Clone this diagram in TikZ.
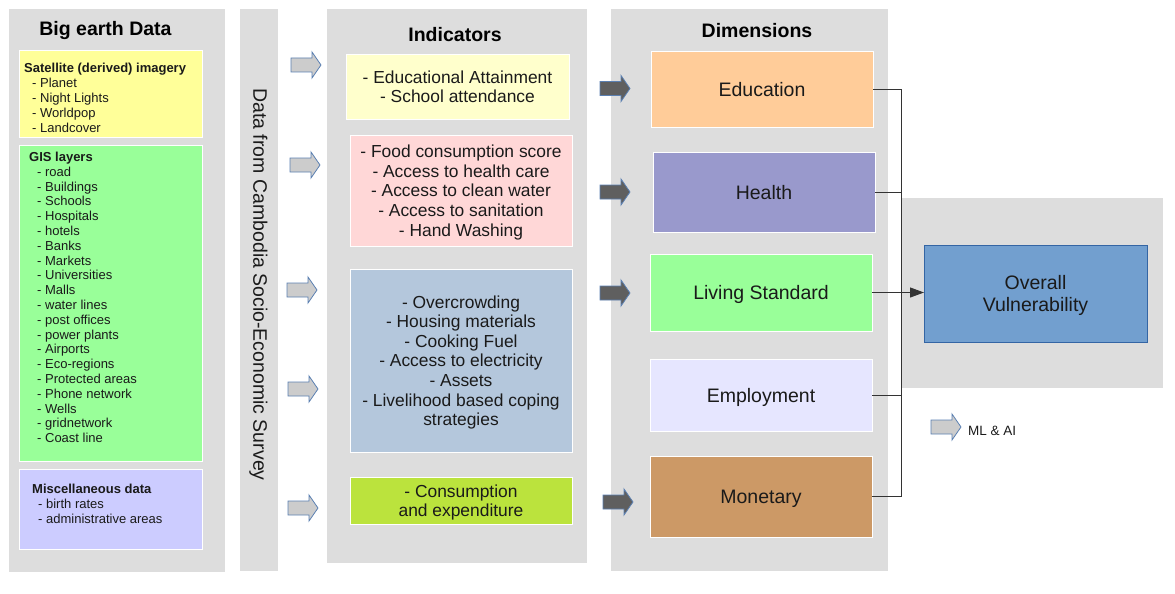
\documentclass[tikz,border=0pt]{standalone}
\usepackage{fontspec}
\setmainfont{Liberation Sans}
\usetikzlibrary{arrows.meta}
\definecolor{panelgray}{HTML}{DDDDDD}
\definecolor{satyellow}{HTML}{FFFF99}
\definecolor{gisgreen}{HTML}{99FF99}
\definecolor{miscblue}{HTML}{CCCCFF}
\definecolor{indyellow}{HTML}{FFFFCC}
\definecolor{indpink}{HTML}{FFD7D7}
\definecolor{indblue}{HTML}{B4C7DC}
\definecolor{indgreen}{HTML}{BBE33D}
\definecolor{dimorange}{HTML}{FFCC99}
\definecolor{dimpurple}{HTML}{9999CC}
\definecolor{dimgreen}{HTML}{99FF99}
\definecolor{dimlav}{HTML}{E6E6FF}
\definecolor{dimbrown}{HTML}{CC9966}
\definecolor{overallfill}{HTML}{729FCF}
\definecolor{overalldraw}{HTML}{3465A4}
\definecolor{arrowlight}{HTML}{CCCCCC}
\definecolor{arrowdark}{HTML}{5F5F5F}
\definecolor{arrowedge}{HTML}{5B80B2}
\definecolor{textdark}{HTML}{1A1A1A}
\definecolor{linedark}{HTML}{333333}
\tikzset{
  panel/.style={fill=panelgray, draw=none},
  cbox/.style={rectangle, draw=white, line width=0.8pt, inner sep=0pt, outer sep=0pt, text=textdark},
  title/.style={font=\fontsize{19.5}{22}\selectfont\bfseries, anchor=base, text=black, inner sep=0pt},
  listtext/.style={font=\fontsize{13}{14.8}\selectfont, anchor=north west, align=left, inner sep=0pt, text=textdark},
  indtext/.style={cbox, font=\fontsize{17.4}{19.6}\selectfont, align=center, text depth=0pt},
  dimtext/.style={cbox, font=\fontsize{19.5}{22.7}\selectfont, align=center, text depth=0pt},
  lightarrow/.style={fill=arrowlight, draw=arrowedge, line width=0.8pt},
  darkarrow/.style={fill=arrowdark, draw=arrowedge, line width=0.8pt},
  blockarrow/.pic={\draw[pic actions] (0,-7) -- (21,-7) -- (21,-13) -- (30,0) -- (21,13) -- (21,7) -- (0,7) -- cycle;},
  bus/.style={draw=linedark, line width=1pt}
}
\begin{document}
\begin{tikzpicture}[x=1pt,y=-1pt]
\useasboundingbox (0,0) rectangle (1175,594);
% panels
\fill[panel] (9,9) rectangle (225,572);
\fill[panel] (240,9) rectangle (278,571);
\fill[panel] (327,9) rectangle (587,563);
\fill[panel] (611,9) rectangle (888,571);
\fill[panel] (902,198) rectangle (1163,388);
% titles
\node[title] (tbig) at (105.5,35.7) {Big earth Data};
\node[title] (tind) at (455,41.5) {Indicators};
\node[title] (tdim) at (757,37.8) {Dimensions};
\node[font=\fontsize{19.5}{22}\selectfont, rotate=-90, text=textdark, inner sep=0pt] (survey) at (258.5,284.5) {Data from Cambodia Socio-Economic Survey};
% left boxes
\node[cbox, fill=satyellow, anchor=north west, minimum width=183pt, minimum height=87pt] (sat) at (19,50) {};
\node[cbox, fill=gisgreen, anchor=north west, minimum width=183pt, minimum height=316pt] (gis) at (19,145) {};
\node[cbox, fill=miscblue, anchor=north west, minimum width=183pt, minimum height=80pt] (misc) at (19,469) {};
\node[listtext] (sattext) at (24,62.3) {\strut\textbf{Satellite (derived) imagery}\\
\hspace*{8pt}- Planet\\ \hspace*{8pt}- Night Lights\\ \hspace*{8pt}- Worldpop\\ \hspace*{8pt}- Landcover};
\node[listtext] (gistext) at (29,150.9) {\strut\textbf{GIS layers}\\
\hspace*{8pt}- road\\ \hspace*{8pt}- Buildings\\ \hspace*{8pt}- Schools\\ \hspace*{8pt}- Hospitals\\
\hspace*{8pt}- hotels\\ \hspace*{8pt}- Banks\\ \hspace*{8pt}- Markets\\ \hspace*{8pt}- Universities\\
\hspace*{8pt}- Malls\\ \hspace*{8pt}- water lines\\ \hspace*{8pt}- post offices\\ \hspace*{8pt}- power plants\\
\hspace*{8pt}- Airports\\ \hspace*{8pt}- Eco-regions\\ \hspace*{8pt}- Protected areas\\ \hspace*{8pt}- Phone network\\
\hspace*{8pt}- Wells\\ \hspace*{8pt}- gridnetwork\\ \hspace*{8pt}- Coast line};
\node[listtext] (misctext) at (32,482.9) {\strut\textbf{Miscellaneous data}\\
\hspace*{6pt}- birth rates\\ \hspace*{6pt}- administrative areas};
% indicators
\node[indtext, fill=indyellow, minimum width=223pt, minimum height=65pt] (ind1) at (457.5,86.5) {- Educational Attainment\\- School attendance};
\node[indtext, fill=indpink, minimum width=222pt, minimum height=111pt] (ind2) at (461,190.5) {- Food consumption score\\- Access to health care\\- Access to clean water\\- Access to sanitation\\- Hand Washing};
\node[indtext, fill=indblue, minimum width=222pt, minimum height=183pt] (ind3) at (461,360.5) {- Overcrowding\\- Housing materials\\- Cooking Fuel\\- Access to electricity\\- Assets\\- Livelihood based coping\\strategies};
\node[indtext, fill=indgreen, minimum width=222pt, minimum height=47pt] (ind4) at (461,500.5) {- Consumption\\and expenditure};
% dimensions
\node[dimtext, fill=dimorange, minimum width=222pt, minimum height=76pt] (edu) at (762,89.5) {Education};
\node[dimtext, fill=dimpurple, minimum width=222pt, minimum height=80pt] (health) at (764,192) {Health};
\node[dimtext, fill=dimgreen, minimum width=222pt, minimum height=77pt] (living) at (761,292.5) {Living Standard};
\node[dimtext, fill=dimlav, minimum width=222pt, minimum height=72pt] (employ) at (761,395) {Employment};
\node[dimtext, fill=dimbrown, minimum width=222pt, minimum height=81pt] (monet) at (761,496.5) {Monetary};
% overall
\node[dimtext, fill=overallfill, draw=overalldraw, line width=1pt, minimum width=223pt, minimum height=97pt] (overall) at (1035.5,293.5) {Overall\\Vulnerability};
% block arrows
\pic[lightarrow] at (291,65) {blockarrow};
\pic[lightarrow] at (290,165) {blockarrow};
\pic[lightarrow] at (287,290) {blockarrow};
\pic[lightarrow] at (288,389) {blockarrow};
\pic[lightarrow] at (288,508) {blockarrow};
\pic[darkarrow] at (600,88.5) {blockarrow};
\pic[darkarrow] at (600,192) {blockarrow};
\pic[darkarrow] at (600,293) {blockarrow};
\pic[darkarrow] at (603,502) {blockarrow};
% connectors
\coordinate (busx) at (901,0);
\draw[bus] (edu.east) -- (edu.east -| busx) -- (monet.east -| busx) -- (monet.east);
\draw[bus] (health.east) -- (health.east -| busx);
\draw[bus] (employ.east) -- (employ.east -| busx);
\draw[bus, -{Triangle[length=14pt,width=10pt]}] (living.east) -- (living.east -| overall.west);
% legend
\pic[lightarrow] at (931,427) {blockarrow};
\node[font=\fontsize{13.5}{15}\selectfont, anchor=base west, inner sep=0pt, text=textdark] (legend) at (968,435) {ML \& AI};
\end{tikzpicture}
\end{document}
